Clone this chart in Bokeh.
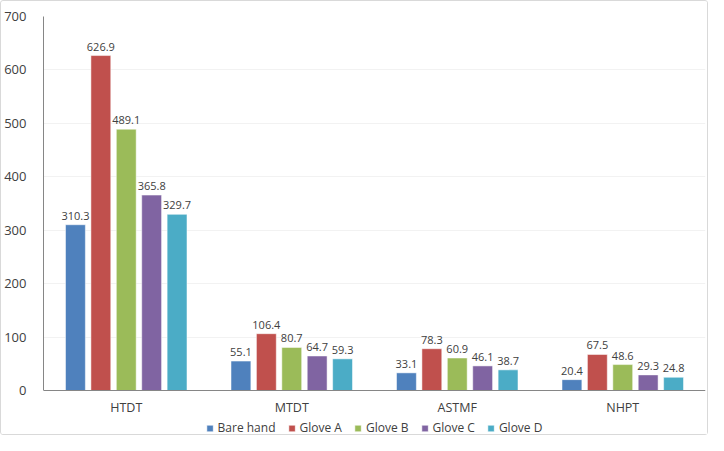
from bokeh.plotting import figure
from bokeh.models import ColumnDataSource, FactorRange, Legend, LegendItem, LabelSet, Range1d
from bokeh.core.properties import value
from bokeh.transform import dodge
from bokeh.embed import file_html
from bokeh.resources import INLINE

categories = ["HTDT", "MTDT", "ASTMF", "NHPT"]
series_names = ["Bare hand", "Glove A", "Glove B", "Glove C", "Glove D"]
bare_hand = [310.3, 55.1, 33.1, 20.4]
glove_a = [626.9, 106.4, 78.3, 67.5]
glove_b = [489.1, 80.7, 60.9, 48.6]
glove_c = [365.8, 64.7, 46.1, 29.3]
glove_d = [329.7, 59.3, 38.7, 24.8]
colors = ["#4F81BD", "#C0504D", "#9BBB59", "#8064A2", "#4BACC6"]
y_ticks = [0, 100, 200, 300, 400, 500, 600, 700]

series = [bare_hand, glove_a, glove_b, glove_c, glove_d]

p = figure(x_range=FactorRange(*categories, range_padding=0), y_range=Range1d(-86, 700),
           width=708, height=435, output_backend="svg", toolbar_location=None,
           min_border_left=42, min_border_top=15, min_border_right=4, min_border_bottom=0)
p.styles = {"border": "1px solid #d9d9d9", "border-radius": "3px"}
p.outline_line_color = None

step = 0.1535
items = []
for i, (name, vals, col) in enumerate(zip(series_names, series, colors)):
    src = ColumnDataSource(dict(cat=categories, val=vals, lab=[f"{v:.1f}" for v in vals]))
    off = (i - 2) * step
    r = p.vbar(x=dodge("cat", off, range=p.x_range), top="val", width=0.12, source=src,
               fill_color=col, line_color="white", line_width=0.5)
    labels = LabelSet(x=dodge("cat", off, range=p.x_range), y="val", text="lab", source=src,
                      text_align="center", text_baseline="bottom", y_offset=5,
                      text_font=value("Open Sans"), text_font_size="11px", text_color="#404040")
    p.add_layout(labels)
    items.append(LegendItem(label=name, renderers=[r]))

legend = Legend(items=items, orientation="horizontal", location="bottom_center",
                label_text_font="Open Sans", label_text_font_size="12px",
                label_text_color="#404040", glyph_width=8, glyph_height=8,
                spacing=12, label_standoff=4, border_line_color=None,
                background_fill_alpha=0, padding=0, margin=0)
p.add_layout(legend, "center")

p.yaxis.ticker = y_ticks
p.yaxis.bounds = (0, 700)
p.yaxis.major_tick_line_color = None
p.yaxis.minor_tick_line_color = None
p.yaxis.axis_line_color = "#868686"
p.yaxis.major_label_text_font = "Open Sans"
p.yaxis.major_label_text_font_size = "13px"
p.yaxis.major_label_text_color = "#404040"
p.yaxis.major_label_standoff = 11

p.xaxis.fixed_location = 0
p.xaxis.major_tick_line_color = None
p.xaxis.minor_tick_line_color = None
p.xaxis.axis_line_color = "#868686"
p.xaxis.major_label_text_font = "Open Sans"
p.xaxis.major_label_text_font_size = "12.5px"
p.xaxis.major_label_text_color = "#404040"
p.xaxis.major_label_standoff = 2

p.xgrid.grid_line_color = None
p.ygrid.grid_line_color = "#f2f2f2"
p.ygrid.ticker = y_ticks

open("out.html", "w").write(file_html(p, INLINE))
